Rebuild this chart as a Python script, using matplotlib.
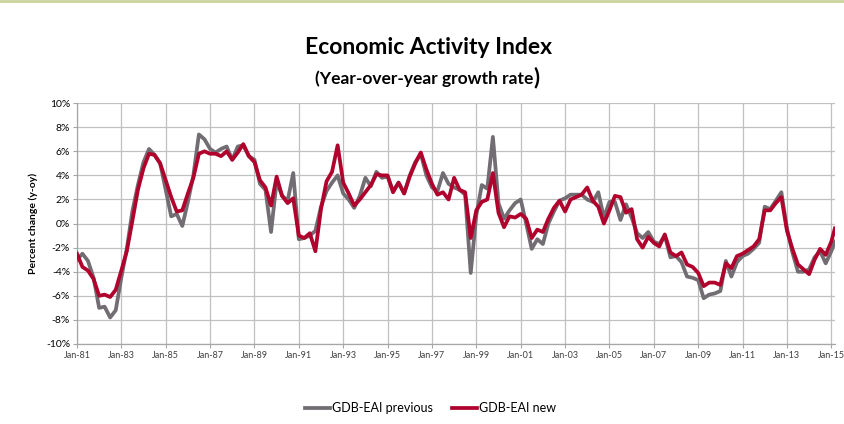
import pandas as pd
import matplotlib.pyplot as plt
from matplotlib.ticker import FuncFormatter, MultipleLocator

plt.rcParams['font.family'] = ['Lato', 'DejaVu Sans']

# quarterly readings, Jan-81 .. Jan-15, plus the last month shown (Mar-15)
dates = list(pd.date_range("1981-01-01", periods=137, freq="QS")) + [pd.Timestamp("2015-03-01")]

eai_previous = [
    -3.0, -2.5, -3.1, -4.5, -7.0, -6.9, -7.8, -7.2, -4.5, -2.1,
    1.0, 3.2, 5.1, 6.2, 5.7, 5.0, 2.8, 0.6, 0.8, -0.2,
    1.8, 4.0, 7.4, 7.0, 6.2, 5.9, 6.2, 6.4, 5.3, 6.4,
    6.5, 5.6, 5.3, 3.3, 2.8, -0.7, 3.5, 2.3, 1.9, 4.2,
    -1.3, -1.2, -1.0, -0.6, 1.4, 2.7, 3.4, 4.0, 2.5, 2.0,
    1.3, 2.3, 3.8, 3.1, 4.3, 3.8, 3.9, 2.7, 3.4, 2.5,
    4.0, 5.1, 5.8, 4.0, 3.0, 2.7, 4.2, 3.3, 3.0, 2.8,
    2.4, -4.1, 0.7, 3.2, 2.9, 7.2, 1.7, 0.4, 1.1, 1.7,
    2.0, 0.0, -2.1, -1.3, -1.7, 0.0, 1.0, 1.9, 2.1, 2.4,
    2.4, 2.4, 2.0, 1.8, 2.6, 0.5, 1.8, 1.8, 0.3, 1.6,
    0.5, -0.8, -1.2, -0.7, -1.5, -1.7, -1.0, -2.8, -2.7, -3.2,
    -4.4, -4.5, -4.7, -6.2, -5.9, -5.8, -5.6, -3.1, -4.4, -3.2,
    -2.7, -2.5, -2.1, -1.6, 1.4, 1.2, 1.9, 2.6, -0.4, -2.4,
    -4.0, -4.0, -3.8, -2.8, -2.3, -3.3, -2.3, -1.5,
]

eai_new = [
    -2.5, -3.6, -3.9, -4.6, -6.0, -5.9, -6.1, -5.5, -3.9, -2.3,
    0.2, 2.8, 4.6, 5.8, 5.7, 5.0, 3.6, 2.2, 1.0, 1.1,
    2.5, 3.8, 5.8, 6.0, 5.8, 5.8, 5.6, 6.0, 5.3, 5.9,
    6.6, 5.6, 5.1, 3.6, 3.0, 1.5, 3.9, 2.3, 1.7, 2.1,
    -1.0, -1.2, -0.8, -2.3, 1.2, 3.5, 4.3, 6.5, 3.4, 2.5,
    1.5, 2.0, 2.6, 3.2, 4.1, 4.0, 4.0, 2.6, 3.4, 2.5,
    3.9, 5.0, 5.9, 4.5, 3.3, 2.4, 2.6, 2.0, 3.8, 2.8,
    2.6, -1.2, 1.1, 1.8, 2.0, 4.2, 0.9, -0.3, 0.6, 0.5,
    0.8, 0.4, -1.2, -0.5, -0.7, 0.4, 1.3, 1.9, 1.0, 2.0,
    2.2, 2.4, 3.0, 1.9, 1.4, 0.0, 1.1, 2.3, 2.2, 0.9,
    1.2, -1.3, -2.0, -1.1, -1.6, -1.9, -0.9, -2.4, -2.7, -2.4,
    -3.4, -3.6, -4.1, -5.2, -4.9, -4.9, -5.1, -3.3, -3.7, -2.7,
    -2.5, -2.2, -1.9, -1.3, 1.1, 1.1, 1.7, 2.2, -0.6, -2.1,
    -3.4, -3.8, -4.2, -3.0, -2.1, -2.6, -1.5, -0.4,
]

tick_years = list(range(1981, 2016, 2))
tick_labels = [f"Jan-{y % 100:02d}" for y in tick_years]

fig = plt.figure(figsize=(8.44, 4.24), dpi=100)
fig.patch.set_facecolor("white")
ax = fig.add_axes([0.0912, 0.1887, 0.898, 0.568])

ax.plot(dates, eai_previous, color="#716d72", lw=2.7, label="GDB-EAI previous",
        solid_joinstyle="round", zorder=3)
ax.plot(dates, eai_new, color="#b0022c", lw=2.7, label="GDB-EAI new",
        solid_joinstyle="round", zorder=4)

ax.set_xlim(dates[0], dates[-1])
ax.set_ylim(-10, 10)
ax.yaxis.set_major_locator(MultipleLocator(2))
ax.yaxis.set_major_formatter(FuncFormatter(lambda v, p: f"{v:.0f}%"))
ax.set_xticks([pd.Timestamp(f"{y}-01-01") for y in tick_years])
ax.set_xticklabels(tick_labels)

ax.grid(True, color="#c0c0c0", lw=0.9, zorder=0)
ax.set_axisbelow(True)
for s in ["top", "right"]:
    ax.spines[s].set_visible(False)
for s in ["left", "bottom"]:
    ax.spines[s].set_color("#a6a6a6")
    ax.spines[s].set_linewidth(0.9)
ax.tick_params(axis="y", labelsize=7.5, length=3, color="#a6a6a6", pad=2)
ax.tick_params(axis="x", labelsize=6.5, length=3, color="#a6a6a6", labelcolor="#404040", pad=2)

ax.set_ylabel("Percent change (y-oy)", fontsize=7.5, fontweight="bold", labelpad=6)

fig.text(0.508, 0.889, "Economic Activity Index", ha="center", va="center",
         fontsize=16.5, fontweight="bold")

# subtitle, with the closing bracket set larger as in the original slide
sub = fig.text(0.508, 0.814, "(Year-over-year growth rate", ha="center", va="center",
               fontsize=12.5, fontweight="bold")
fig.canvas.draw()
bb = sub.get_window_extent().transformed(fig.transFigure.inverted())
shift = 0.006
sub.set_x(0.508 - shift)
fig.text(bb.x1 - shift + 0.001, 0.818, ")", ha="left", va="center",
         fontsize=16, fontweight="bold")

fig.legend(loc="center", bbox_to_anchor=(0.51, 0.037), ncol=2, frameon=False,
           fontsize=9, handlelength=2.0, columnspacing=1.5, handletextpad=0.2)

# thin accent line on top of the slide
fig.add_artist(plt.Line2D([0, 1], [0.997, 0.997], color="#c9d39b", lw=2,
                          transform=fig.transFigure))

fig.savefig("out.png", dpi=100)
